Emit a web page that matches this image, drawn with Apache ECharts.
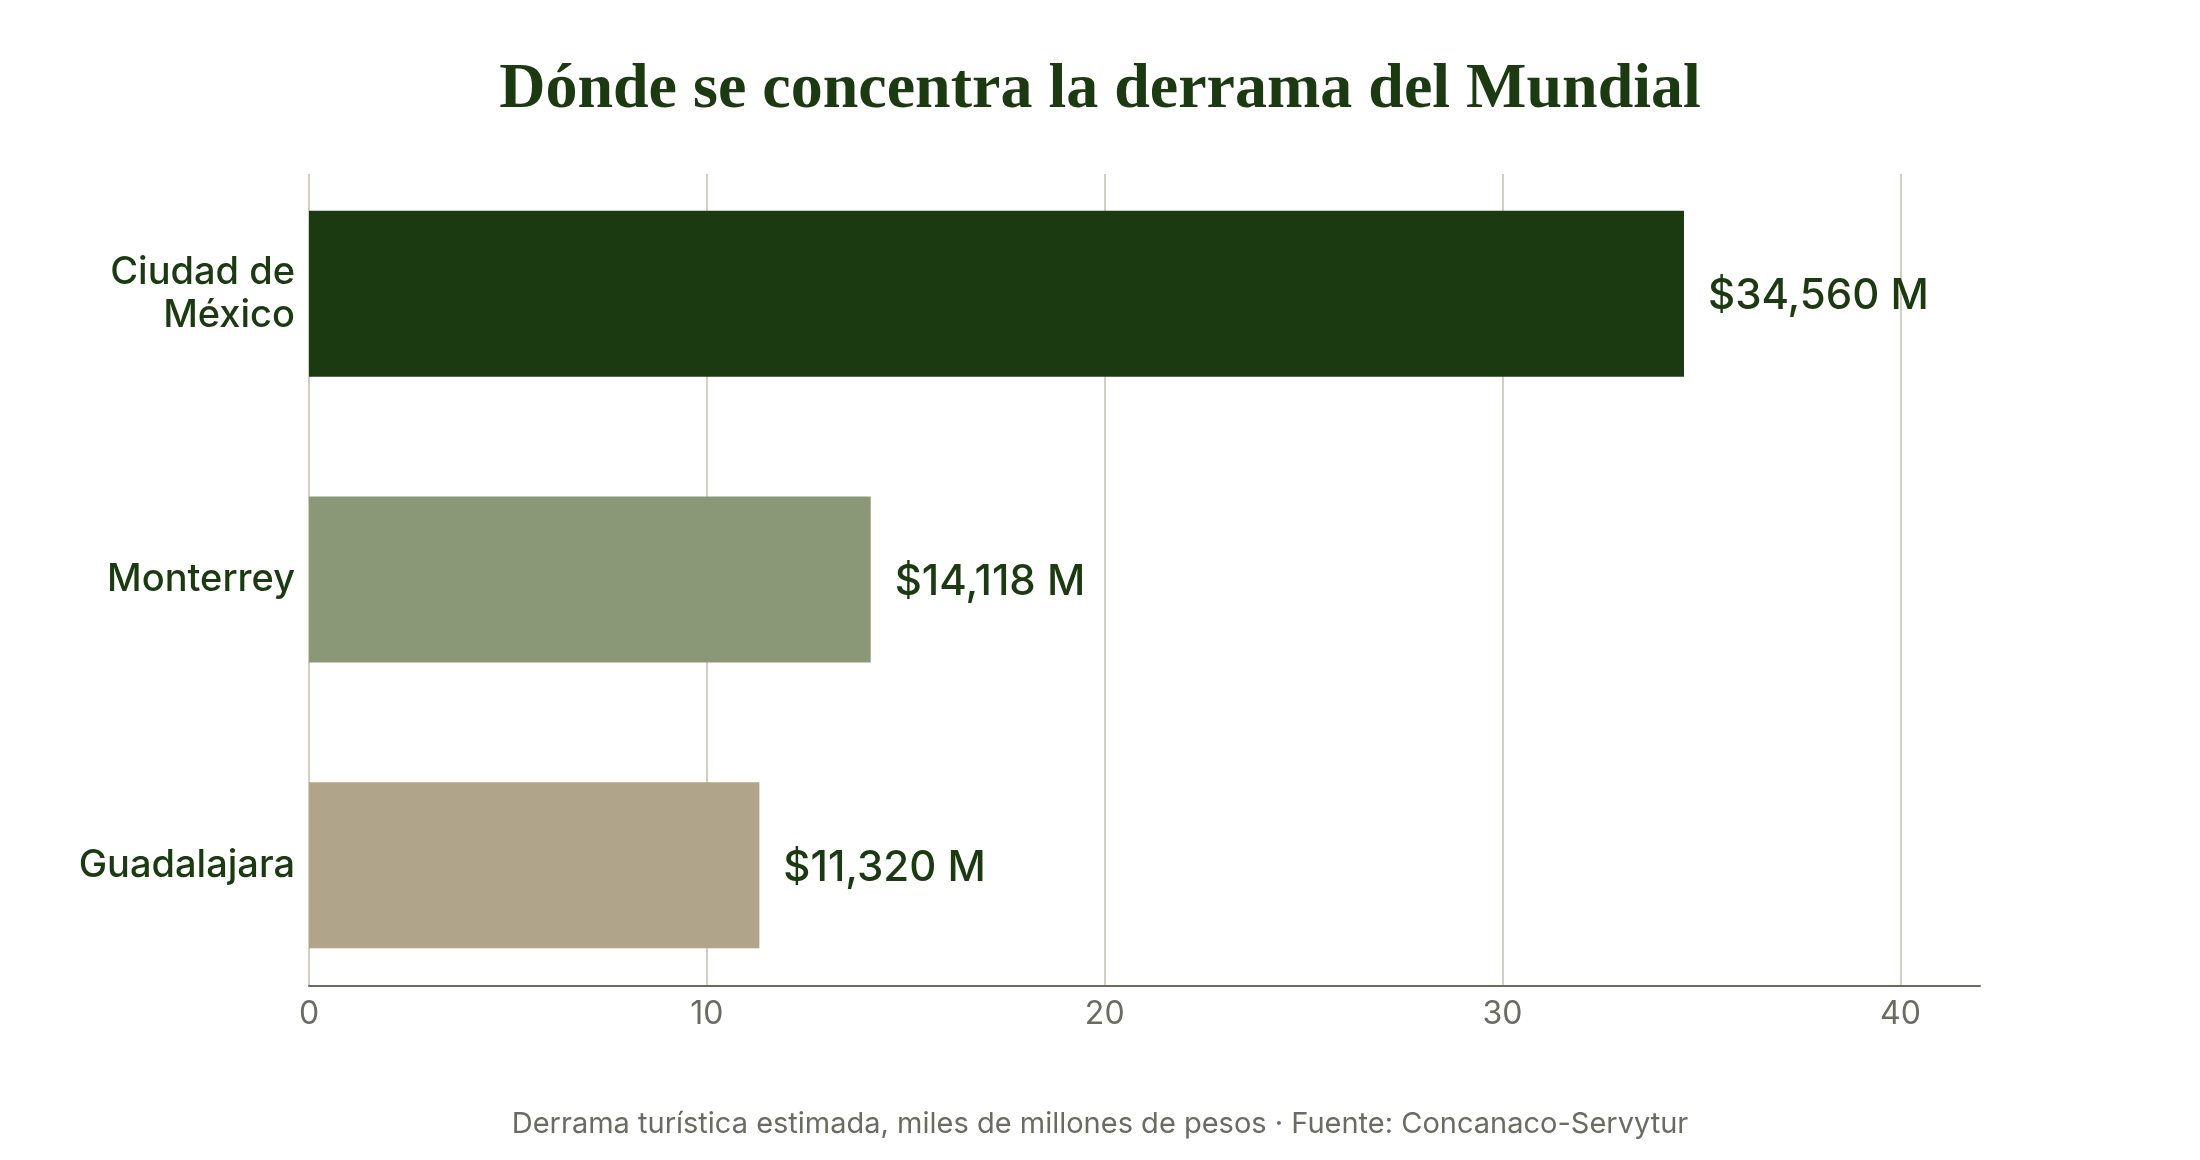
<!DOCTYPE html>
<html>
<head>
<meta charset="utf-8">
<title>Derrama del Mundial</title>
<script src="https://cdn.jsdelivr.net/npm/echarts@6/dist/echarts.min.js"></script>
<style>
  html, body { margin: 0; padding: 0; background: #ffffff; }
  #chart { width: 2200px; height: 1160px; }
</style>
</head>
<body>
<div id="chart"></div>
<script>
  // datos: derrama estimada (miles de millones de pesos)
  var cities = ['Ciudad de\nMéxico', 'Monterrey', 'Guadalajara']
  var values = [34.56, 14.118, 11.32]
  var barColors = ['#1c3a11', '#8b9878', '#b0a48b']
  var xTicks = [0, 10, 20, 30, 40]

  var green = '#1c3a11'
  var grey = '#6b6b63'

  var barData = values.map(function (v, i) {
    return { value: v, itemStyle: { color: barColors[i] } }
  })

  var chart = echarts.init(document.getElementById('chart'))
  chart.setOption({
    animation: false,
    backgroundColor: '#ffffff',
    title: [
      {
        text: 'Dónde se concentra la derrama del Mundial',
        left: 'center',
        top: 53,
        textStyle: {
          fontFamily: 'Liberation Serif',
          fontWeight: 'bold',
          fontSize: 64,
          color: green
        }
      },
      {
        text: 'Derrama turística estimada, miles de millones de pesos · Fuente: Concanaco-Servytur',
        left: 'center',
        top: 1105,
        textStyle: {
          fontFamily: 'Inter',
          fontWeight: 'normal',
          fontSize: 29,
          color: grey
        }
      }
    ],
    // grid 0: barras; grid 1: ejes y líneas de referencia
    grid: [
      { left: 309, right: 220, top: 151, bottom: 152 },
      { left: 309, right: 220, top: 174, bottom: 174 }
    ],
    xAxis: [
      {
        gridIndex: 0,
        type: 'value',
        min: 0,
        max: 42,
        show: false
      },
      {
        gridIndex: 1,
        type: 'value',
        min: 0,
        max: 42,
        interval: 10,
        axisLine: { show: true, onZero: false, lineStyle: { color: grey, width: 2 } },
        axisTick: { show: false, customValues: xTicks },
        axisLabel: {
          customValues: xTicks,
          margin: 12,
          fontFamily: 'Inter',
          fontSize: 32,
          color: grey
        },
        splitLine: { show: true, lineStyle: { color: '#d6cdbf', width: 2 } },
        z: 1
      }
    ],
    yAxis: [
      {
        gridIndex: 0,
        type: 'category',
        inverse: true,
        data: cities,
        axisLine: { show: false },
        axisTick: { show: false },
        splitLine: { show: false },
        axisLabel: {
          margin: 14,
          padding: [8, 0, 0, 0],
          fontFamily: 'Inter',
          fontWeight: 500,
          fontSize: 38,
          lineHeight: 43,
          color: green
        }
      },
      {
        gridIndex: 1,
        type: 'value',
        min: 0,
        max: 1,
        show: false
      }
    ],
    series: [
      {
        type: 'bar',
        xAxisIndex: 0,
        yAxisIndex: 0,
        barWidth: 166,
        data: barData,
        z: 3,
        label: {
          show: true,
          position: 'right',
          distance: 24,
          offset: [0, 3],
          fontFamily: 'Inter',
          fontWeight: 500,
          fontSize: 42,
          color: green,
          formatter: function (p) {
            return '$' + Math.round(p.value * 1000).toLocaleString('en-US') + ' M'
          }
        }
      }
    ]
  })
</script>
</body>
</html>
